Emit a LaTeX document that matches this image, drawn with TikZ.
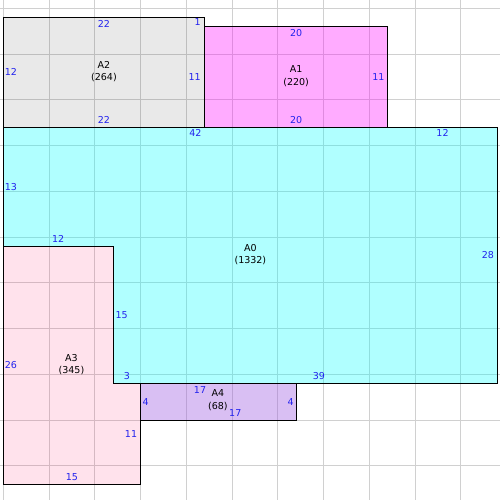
\documentclass[tikz,border=0pt]{standalone}
\usepackage{fontspec}
\setmainfont{DejaVu Sans}
\definecolor{cA0}{RGB}{0,255,255}
\definecolor{cA1}{RGB}{255,0,255}
\definecolor{cA2}{RGB}{0,0,0}
\definecolor{cA3}{RGB}{255,0,88}
\definecolor{cA4}{RGB}{160,95,225}
\definecolor{cLab}{HTML}{2222EE}
\definecolor{cGrid}{HTML}{D0D0D0}
\begin{document}
\begin{tikzpicture}[x=0.25cm, y=-0.25cm,
  regionline/.style={draw=black, line width=0.9pt, line join=miter},
  gridline/.style={draw=cGrid, line width=0.75pt},
  elab/.style={text=cLab, font=\fontsize{7.4}{9.5}\selectfont, inner sep=0pt},
  rlab/.style={text=black, font=\fontsize{7.4}{9.5}\selectfont, inner sep=0pt, align=center}]
\useasboundingbox (-0.36,-0.91) rectangle (54.28,53.73);
\fill[white] (-0.36,-0.91) rectangle (54.28,53.73);
% grid
\foreach \g in {0,5,...,50} {
  \draw[gridline] (\g,-0.91) -- (\g,53.73);
  \draw[gridline] (-0.36,\g) -- (54.28,\g);
}
% translucent fills
\fill[cA2, fill opacity=0.086] (0,1) rectangle (22,13);
\fill[cA1, fill opacity=0.33] (22,2) rectangle (42,13);
\fill[cA0, fill opacity=0.31] (0,13) -- (54,13) -- (54,41) -- (12,41) -- (12,26) -- (0,26) -- cycle;
\fill[cA3, fill opacity=0.114] (0,26) -- (12,26) -- (12,41) -- (15,41) -- (15,52) -- (0,52) -- cycle;
\fill[cA4, fill opacity=0.4] (15,41) rectangle (32,45);
% outlines
\draw[regionline] (0,1) rectangle (22,13);
\draw[regionline] (22,2) rectangle (42,13);
\draw[regionline] (0,13) -- (54,13) -- (54,41) -- (12,41) -- (12,26) -- (0,26) -- cycle;
\draw[regionline] (0,26) -- (12,26) -- (12,41) -- (15,41) -- (15,52) -- (0,52) -- cycle;
\draw[regionline] (15,41) rectangle (32,45);
% region labels
\node[rlab] (lA2) at (11,6.9) {A2\\(264)};
\node[rlab] (lA1) at (32,7.42) {A1\\(220)};
\node[rlab] (lA0) at (27,26.87) {A0\\(1332)};
\node[rlab] (lA3) at (7.45,38.9) {A3\\(345)};
\node[rlab] (lA4) at (23.45,42.83) {A4\\(68)};
% A2 edge labels
\node[elab] (e2t) at (11,1.75) {22};
\node[elab, anchor=west] (e2l) at (0.15,7) {12};
\node[elab, anchor=east] (e2r) at (21.6,7.5) {11};
\node[elab, anchor=east] (e2r1) at (21.6,1.5) {1};
\node[elab] (e2b) at (11,12.2) {22};
% A1 edge labels
\node[elab] (e1t) at (32,2.72) {20};
\node[elab, anchor=east] (e1r) at (41.68,7.5) {11};
\node[elab] (e1b) at (32,12.2) {20};
% A0 edge labels
\node[elab] (e0t1) at (21,13.65) {42};
\node[elab] (e0t2) at (48,13.65) {12};
\node[elab, anchor=west] (e0l) at (0.15,19.5) {13};
\node[elab, anchor=east] (e0r) at (53.65,27) {28};
\node[elab] (e0s) at (6,25.25) {12};
\node[elab, anchor=west] (e0i) at (12.25,33.5) {15};
\node[elab] (e0b1) at (13.5,40.2) {3};
\node[elab] (e0b2) at (34.5,40.2) {39};
% A3 edge labels
\node[elab, anchor=west] (e3l) at (0.15,39) {26};
\node[elab] (e3b) at (7.5,51.22) {15};
\node[elab, anchor=east] (e3r) at (14.65,46.5) {11};
% A4 edge labels
\node[elab] (e4t) at (21.5,41.75) {17};
\node[elab] (e4b) at (25.35,44.2) {17};
\node[elab, anchor=west] (e4l) at (15.2,43) {4};
\node[elab, anchor=east] (e4r) at (31.75,43) {4};
\end{tikzpicture}
\end{document}
